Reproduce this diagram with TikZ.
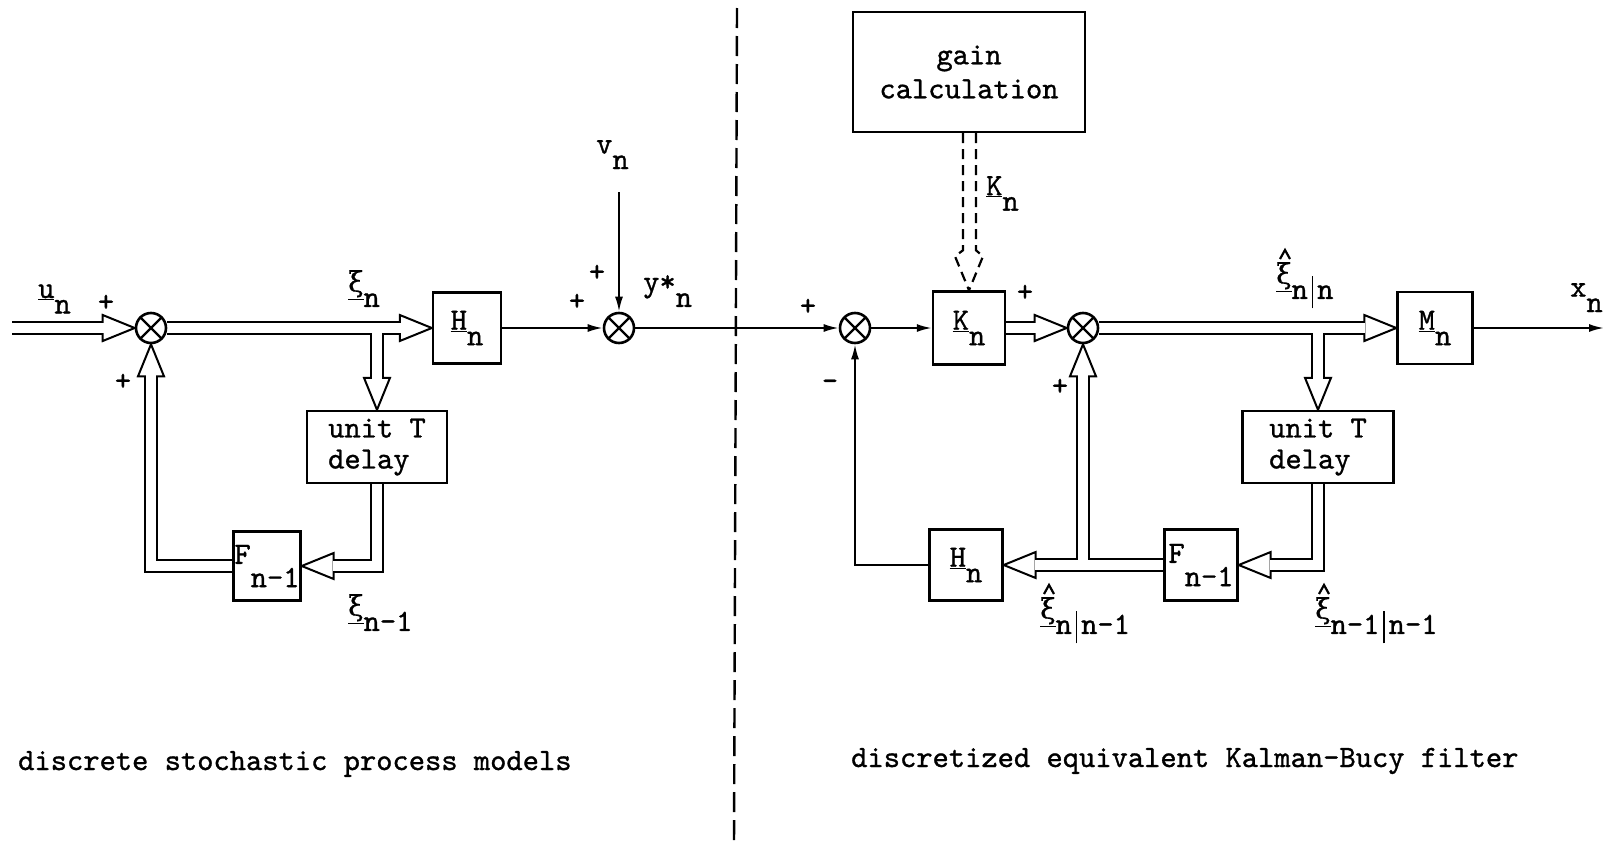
\documentclass[tikz,border=0pt]{standalone}
\usepackage{fontspec}
\setmonofont{lmmono10-regular.otf}[FakeBold=1.0]
\newfontfamily\grk{DejaVu Serif}[FakeBold=0.6]
\usetikzlibrary{arrows.meta,calc}
\pgfdeclarelayer{fatA}
\pgfdeclarelayer{heads}
\pgfdeclarelayer{fatB}
\pgfsetlayers{fatA,heads,fatB,main}
\newcommand\tfnt{\fontsize{31}{31}\selectfont\ttfamily}
\newcommand\lo[2][0.5em]{\raisebox{-#1}{#2}}
\newcommand\ul[1]{\underline{#1}}
\newcommand\vb{\hspace{0.12em}\rule[-0.3em]{1.8pt}{1.05em}\hspace{0.12em}}
\newcommand\xiu{{\grk\fontsize{28}{28}\selectfont\underline{ξ}}}
\newcommand\fat[1]{%
  \begin{pgfonlayer}{fatA}\draw[line width=14pt,line join=miter] #1;\end{pgfonlayer}%
  \begin{pgfonlayer}{fatB}\draw[line width=10pt,white,line join=miter] #1;\end{pgfonlayer}}
\newcommand\headR[1]{\begin{pgfonlayer}{heads}\draw[fathead] #1 -- ++(-32,-13) -- ++(0,26) -- cycle;\end{pgfonlayer}}
\newcommand\headL[1]{\begin{pgfonlayer}{heads}\draw[fathead] #1 -- ++(32,-13) -- ++(0,26) -- cycle;\end{pgfonlayer}}
\newcommand\headD[1]{\begin{pgfonlayer}{heads}\draw[fathead] #1 -- ++(-13,-32) -- ++(26,0) -- cycle;\end{pgfonlayer}}
\newcommand\headU[1]{\begin{pgfonlayer}{heads}\draw[fathead] #1 -- ++(-13,32) -- ++(26,0) -- cycle;\end{pgfonlayer}}
\tikzset{
  fathead/.style={draw=black,fill=white,line width=2pt,line join=miter},
  sum/.style={circle,draw,line width=2.6pt,minimum size=30pt,inner sep=0pt,fill=white,
    path picture={\draw[line width=2.2pt] (path picture bounding box.north west) -- (path picture bounding box.south east)
      (path picture bounding box.north east) -- (path picture bounding box.south west);}},
  blk/.style={draw,line width=2.4pt,fill=white,inner sep=0pt,font=\tfnt},
  lab/.style={inner sep=0pt,font=\tfnt},
  arr/.style={line width=2pt,-{Latex[length=15pt,width=8pt]}},
  dsh/.style={line width=2.2pt,dash pattern=on 10pt off 6pt},
  hatmark/.style={line width=2.2pt,line join=miter},
}
\begin{document}
\begin{tikzpicture}[x=1pt,y=-1pt]
\useasboundingbox (0,0) rectangle (1612,846);
% ---------- left: process model
\coordinate (in) at (12,328);
\node[sum] (s1) at (151,328) {};
\node[blk,minimum width=68pt,minimum height=71pt] (H1) at (467,328) {\ul{H}\lo{n}};
\node[blk,minimum width=140pt,minimum height=72pt,align=left] (D1) at (377,447) {unit T\\delay};
\node[blk,minimum width=67pt,minimum height=69pt] (F1) at (267,566) {F\lo[0.75em]{n-1}};
\node[sum] (s2) at (619,328) {};
\coordinate (vtop) at (619,192);
% ---------- right: filter
\node[blk,minimum width=232pt,minimum height=120pt,align=center,font=\fontsize{31}{34}\selectfont\ttfamily] (G) at (969,72) {gain\\calculation};
\node[sum] (s3) at (855,328) {};
\node[blk,minimum width=72pt,minimum height=73pt] (K) at (969,328) {\ul{K}\lo{n}};
\node[sum] (s4) at (1083,328) {};
\node[blk,minimum width=75pt,minimum height=72pt] (M) at (1435,328) {\ul{M}\lo{n}};
\node[blk,minimum width=151pt,minimum height=72pt,align=left] (D2) at (1318,447) {unit T\\delay};
\node[blk,minimum width=73pt,minimum height=71pt] (F2) at (1201,565) {F\lo[0.75em]{n-1}};
\node[blk,minimum width=73pt,minimum height=71pt] (H2) at (966,565) {\ul{H}\lo{n}};
\coordinate (out) at (1604,328);
% ---------- fat (vector) connectors
\fat{(in) -- ($(s1.west)+(-31,0)$)} \headR{(s1.west)}
\fat{(s1.east) -- ($(H1.west)+(-31,0)$)} \headR{(H1.west)}
\fat{(D1.north |- s1) -- ($(D1.north)+(0,-31)$)} \headD{(D1.north)}
\fat{(D1.south) |- ($(F1.east)+(31,0)$)} \headL{(F1.east)}
\fat{(F1.west) -| ($(s1.south)+(0,31)$)} \headU{(s1.south)}
\fat{(K.east) -- ($(s4.west)+(-31,0)$)} \headR{(s4.west)}
\fat{(s4.east) -- ($(M.west)+(-31,0)$)} \headR{(M.west)}
\fat{(D2.north |- s4) -- ($(D2.north)+(0,-31)$)} \headD{(D2.north)}
\fat{(D2.south) |- ($(F2.east)+(31,0)$)} \headL{(F2.east)}
\fat{(F2.west) -- ($(H2.east)+(31,0)$)} \headL{(H2.east)}
\fat{(s4 |- F2.west) -- ($(s4.south)+(0,31)$)} \headU{(s4.south)}
% ---------- scalar connectors
\draw[arr] (H1) -- (s2);
\draw[arr] (vtop) -- (s2);
\draw[arr] (s2) -- (s3);
\draw[arr] (s3) -- (K);
\draw[arr] (H2.west) -| (s3.south);
\draw[arr] (M) -- (out);
% ---------- dashed gain connector
\draw[dsh] ($(G.south)+(-6,0)$) -- ($(K.north)+(-6,-40)$) -- ($(K.north)+(-14,-34)$) -- (K.north);
\draw[dsh] ($(G.south)+(7,0)$) -- ($(K.north)+(7,-40)$) -- ($(K.north)+(14,-34)$) -- (K.north);
% ---------- divider
\coordinate (dtop) at (737,8);
\coordinate (dbot) at (734,846);
\draw[line width=2.4pt,dash pattern=on 20pt off 8pt] (dtop) -- (dbot);
% ---------- labels
\node[lab,anchor=base west] (lu) at (38,298) {\ul{u}\lo{n}};
\node[lab] (p1) at (106,303) {+};
\node[lab] (p2) at (123,382) {+};
\node[lab,anchor=north west] (lxi) at (348,270) {\xiu\lo{n}};
\node[lab,anchor=north west] (lxi1) at (348,594) {\xiu\lo{n-1}};
\node[lab,anchor=north west] (lv) at (596,140) {v\lo{n}};
\node[lab] (p3) at (577,302) {+};
\node[lab] (p4) at (597,273) {+};
\node[lab,anchor=north west] (ly) at (643,275) {y*\lo{n}};
\node[lab] (p5) at (808,307) {+};
\node[lab] (m1) at (830,385) {–};
\node[lab,anchor=north west] (lk) at (986,176) {\ul{K}\lo{n}};
\node[lab] (p6) at (1025,293) {+};
\node[lab] (p7) at (1060,387) {+};
\node[lab,anchor=north west] (lxnn) at (1276,262) {\xiu\lo{n\vb n}};
\node[lab,anchor=north west] (lx) at (1570,283) {x\lo{n}};
\node[lab,anchor=north west] (lxnn1) at (1040,597) {\xiu\lo{n\vb n-1}};
\node[lab,anchor=north west] (lxn1n1) at (1315,597) {\xiu\lo{n-1\vb n-1}};
\foreach \l in {lxnn,lxnn1,lxn1n1}{
  \draw[hatmark] ($(\l.north west)+(4,-3)$) -- ++(5,-9) -- ++(5,9);
}
\node[lab,anchor=base west] (t1) at (18,770) {discrete stochastic process models};
\node[lab,anchor=base west] (t2) at (851,767) {discretized equivalent Kalman-Bucy filter};
\end{tikzpicture}
\end{document}
